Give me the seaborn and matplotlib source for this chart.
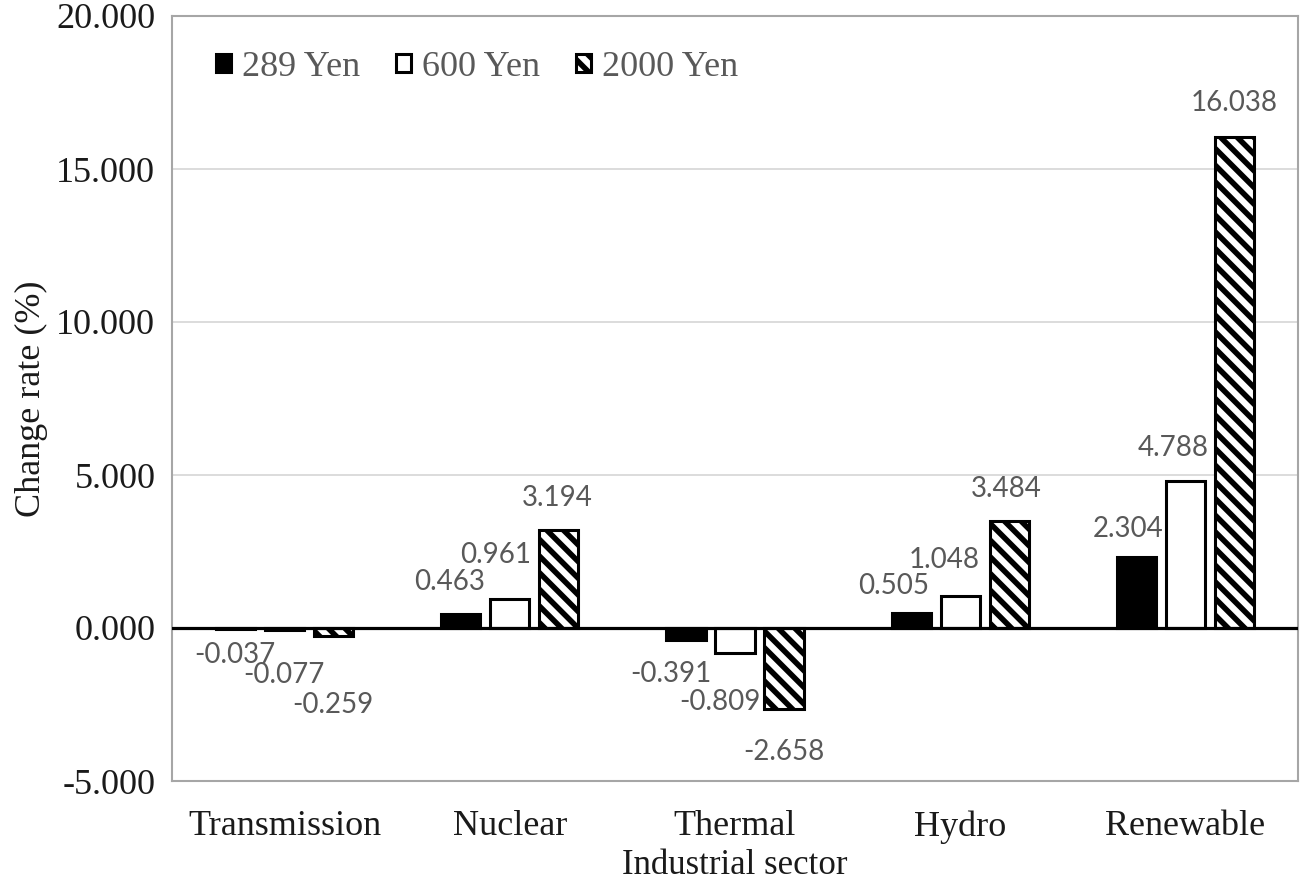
import pandas as pd
import numpy as np
import matplotlib
matplotlib.use('Agg')
import matplotlib.pyplot as plt
import seaborn as sns
from matplotlib.ticker import FuncFormatter, MultipleLocator

sectors = ["Transmission", "Nuclear", "Thermal", "Hydro", "Renewable"]
series_names = ["289 Yen", "600 Yen", "2000 Yen"]
yen_289 = [-0.037, 0.463, -0.391, 0.505, 2.304]
yen_600 = [-0.077, 0.961, -0.809, 1.048, 4.788]
yen_2000 = [-0.259, 3.194, -2.658, 3.484, 16.038]

df = pd.DataFrame({
    'sector': sectors * 3,
    'price': np.repeat(series_names, len(sectors)),
    'rate': yen_289 + yen_600 + yen_2000,
})

# hand-placed label offsets (pixels), like the original Excel chart
label_offsets = [
    [(-1, 26), (-11, 32), (-15, 34), (-18, 27), (-8, 28)],
    [(-1, 45), (-14, 44), (-15, 49), (-16, 36), (-12, 33)],
    [(-1, 69), (-2, 32), (0, 43), (-3, 32), (0, 34)],
]

sns.set_style('white')
plt.rcParams['font.family'] = ['Liberation Serif', 'DejaVu Serif']
plt.rcParams['hatch.linewidth'] = 4

fig = plt.figure(figsize=(13.05, 8.86), dpi=100)
ax = fig.add_axes([172 / 1305, 105 / 886, 1126 / 1305, 765 / 886])

sns.barplot(data=df, x='sector', y='rate', hue='price', order=sectors, hue_order=series_names,
            palette=['black', 'white', 'white'], edgecolor='black', linewidth=2.2,
            width=0.653, gap=0.2, ax=ax, zorder=2)

for patch in ax.containers[2]:
    patch.set_hatch('\\\\')

for i, cont in enumerate(ax.containers):
    for j, patch in enumerate(cont):
        h = patch.get_height()
        xc = patch.get_x() + patch.get_width() / 2
        dx, dy = label_offsets[i][j]
        ax.annotate(f"{h:.3f}", xy=(xc, h), xytext=(dx, dy if h >= 0 else -dy),
                    textcoords='offset pixels', ha='center', va='center',
                    fontsize=20, color='#595959', family='Lato')

ax.axhline(0, color='black', lw=2.3, zorder=3)
ax.set_ylim(-5, 20)
ax.set_xlim(-0.5, 4.5)
ax.yaxis.set_major_locator(MultipleLocator(5))
ax.yaxis.set_major_formatter(FuncFormatter(lambda v, p: f"{v:.3f}"))
ax.grid(axis='y', color='#d9d9d9', lw=1.3, zorder=0)
ax.set_axisbelow(True)
for s in ax.spines.values():
    s.set_color('#a6a6a6')
    s.set_linewidth(1.5)

ax.tick_params(axis='y', length=0, pad=12, labelsize=26, labelcolor='#1a1a1a')
ax.tick_params(axis='x', length=0, pad=21, labelsize=26, labelcolor='#1a1a1a')
ax.set_xlabel('Industrial sector', fontsize=25, color='#1a1a1a', labelpad=4)
ax.set_ylabel('Change rate (%)', fontsize=26, color='#1a1a1a', labelpad=6)

handles = [cont.patches[0] for cont in ax.containers]
ax.legend(handles, series_names, loc='upper left', bbox_to_anchor=(0.01, 0.997), ncol=3,
          frameon=False, fontsize=26, handlelength=0.42, handleheight=0.42,
          handletextpad=0.3, columnspacing=1.0, labelcolor='#595959')

fig.savefig('out.png', dpi=100)
